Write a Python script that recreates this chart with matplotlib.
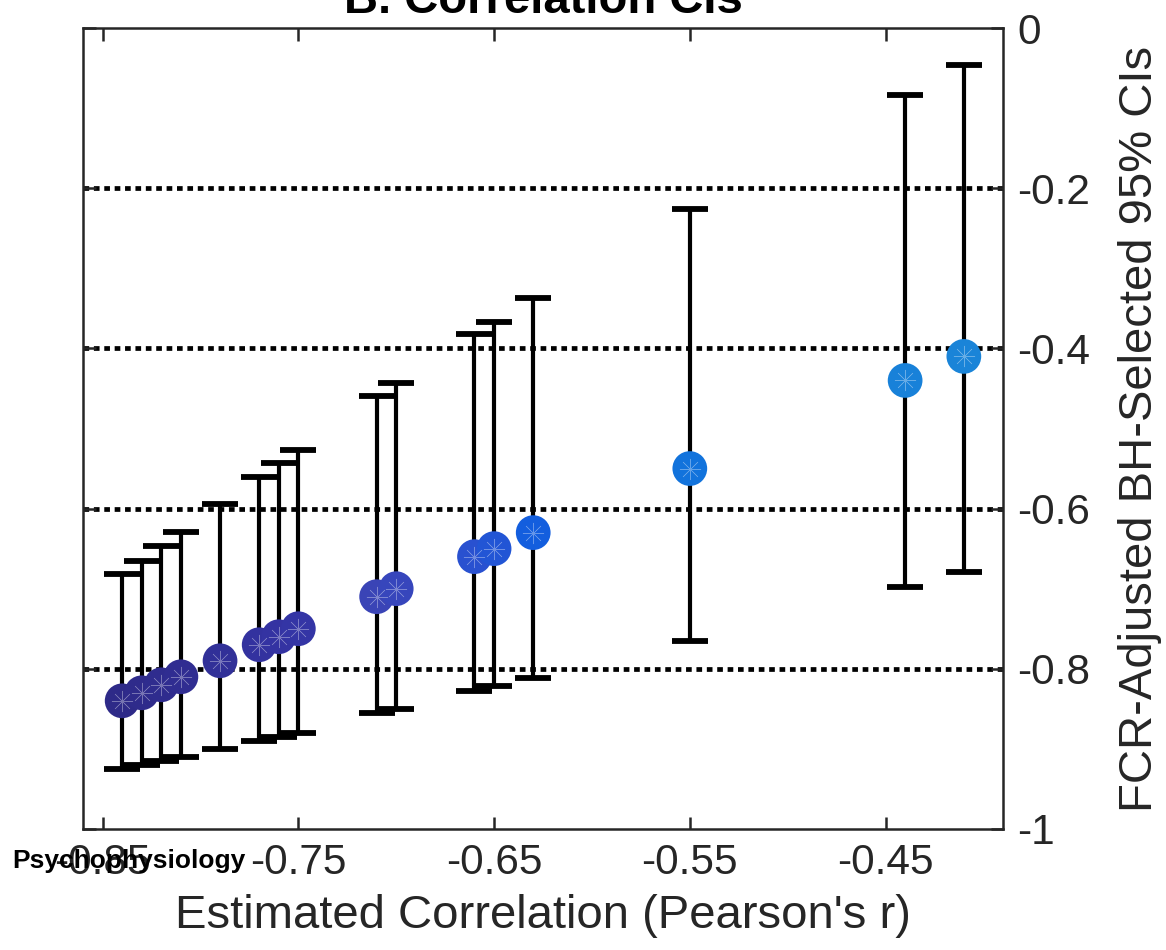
import matplotlib
matplotlib.use("Agg")
import matplotlib.pyplot as plt
import numpy as np
from matplotlib.colors import LinearSegmentedColormap

# estimated correlations and their FCR-adjusted CIs
r_est = [-0.84, -0.83, -0.82, -0.81, -0.79, -0.77, -0.76, -0.75,
         -0.71, -0.70, -0.66, -0.65, -0.63, -0.55, -0.44, -0.41]
ci_upper = [-0.682, -0.665, -0.647, -0.629, -0.594, -0.560, -0.543, -0.527,
            -0.460, -0.443, -0.382, -0.367, -0.337, -0.226, -0.083, -0.046]
ci_lower = [-0.925, -0.920, -0.915, -0.910, -0.900, -0.890, -0.885, -0.880,
            -0.855, -0.850, -0.828, -0.822, -0.811, -0.765, -0.698, -0.679]

xticks = [-0.85, -0.75, -0.65, -0.55, -0.45]
xtick_labels = ["-0.85", "-0.75", "-0.65", "-0.55", "-0.45"]
yticks = [0, -0.2, -0.4, -0.6, -0.8, -1]
ytick_labels = ["0", "-0.2", "-0.4", "-0.6", "-0.8", "-1"]
grid_levels = [-0.2, -0.4, -0.6, -0.8]

INK = "#262626"
FONT = "Liberation Sans"

cmap = LinearSegmentedColormap.from_list(
    "rcol",
    [(0.0, "#2e2a88"), (0.2, "#3434a4"), (0.3, "#3a44b6"), (0.4, "#2f4dcc"),
     (0.5, "#1060e0"), (0.68, "#1274dc"), (1.0, "#1a84d8")])

plt.rcParams["font.family"] = [FONT, "DejaVu Sans"]

fig = plt.figure(figsize=(11.66, 9.50), dpi=100, facecolor="white")
ax = fig.add_axes([0.0712, 0.1274, 0.789, 0.8431])

for lvl in grid_levels:
    ax.axhline(lvl, color="black", lw=3.4, dashes=(1.2, 1.0),
               dash_capstyle="butt", zorder=1)

r = np.array(r_est)
hi = np.array(ci_upper)
lo = np.array(ci_lower)
ax.errorbar(r, r, yerr=[r - lo, hi - r], fmt="none", ecolor="black",
            elinewidth=3.0, capsize=13, capthick=4.2, zorder=2)

norm = (r - r.min()) / (r.max() - r.min())
cols = cmap(norm)
ax.scatter(r, r, s=25 ** 2, c=cols, marker="o", linewidths=0, zorder=3)
ax.scatter(r, r, s=15 ** 2, c="white", marker=(8, 2, 0), linewidths=0.4,
           alpha=0.35, zorder=4)

ax.set_xlim(-0.86, -0.39)
ax.set_ylim(-1, 0)
ax.set_xticks(xticks)
ax.set_xticklabels(xtick_labels)
ax.set_yticks(yticks)
ax.set_yticklabels(ytick_labels)
ax.yaxis.tick_right()
ax.tick_params(axis="both", which="both", direction="in", length=9, width=1.8,
               color=INK, labelcolor=INK, labelsize=30.5,
               top=True, bottom=True, left=True, right=True)
ax.tick_params(axis="x", pad=10)
ax.tick_params(axis="y", pad=10, labelleft=False, labelright=True)
for sp in ax.spines.values():
    sp.set_color(INK)
    sp.set_linewidth(1.8)

ax.set_xlabel("Estimated Correlation (Pearson's r)", fontsize=34, color=INK,
              labelpad=8)
fig.text(1140 / 1166, 0.549, "FCR-Adjusted BH-Selected 95% CIs", rotation=90,
         ha="center", va="center", fontsize=34, color=INK)
ax.set_title("B. Correlation CIs", fontsize=34, fontweight="bold",
             color="black", pad=11)

fig.text(12 / 1166, 1 - 868 / 950, "Psychophysiology", fontsize=19,
         fontweight="bold", color="black", ha="left", va="baseline")

fig.savefig("out.png", dpi=100, facecolor="white")
